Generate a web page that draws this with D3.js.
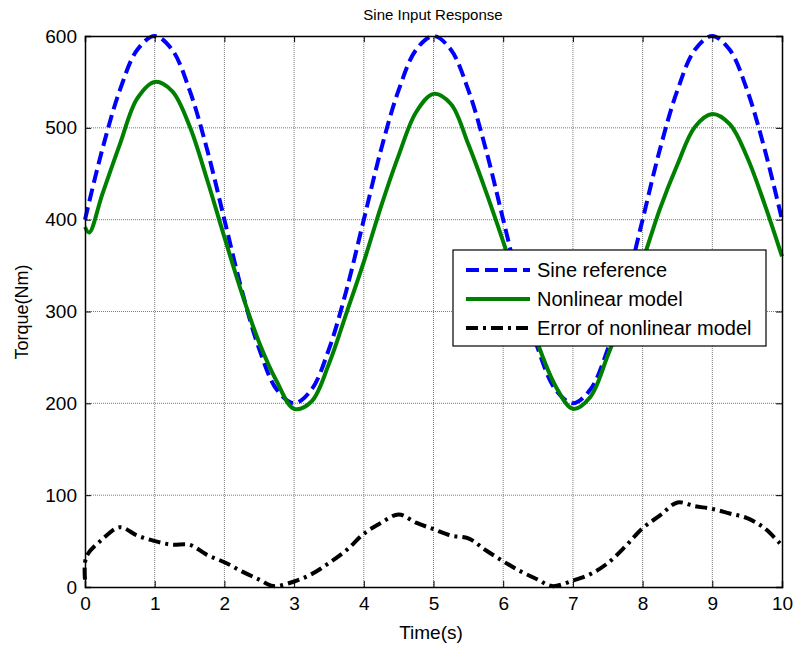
<!DOCTYPE html>
<html>
<head>
<meta charset="utf-8">
<script src="https://cdn.jsdelivr.net/npm/d3@7"></script>
<style>
  body { margin: 0; background: #fff; }
  svg { display: block; font-family: 'Liberation Sans', Arial, sans-serif; }
</style>
</head>
<body>
<div id="chart"></div>
<script>
// values
var refTime = [0, 0.25, 0.5, 0.75, 1, 1.25, 1.5, 1.75, 2, 2.25, 2.5, 2.75, 3, 3.25, 3.5, 3.75, 4, 4.25, 4.5, 4.75, 5,
  5.25, 5.5, 5.75, 6, 6.25, 6.5, 6.75, 7, 7.25, 7.5, 7.75, 8, 8.25, 8.5, 8.75, 9, 9.25, 9.5, 9.75, 10];
var sineRef = [400, 477, 541, 585, 600, 585, 541, 477, 400, 323, 259, 215, 200, 215, 259, 323, 400, 477, 541, 585, 600,
  585, 541, 477, 400, 323, 259, 215, 200, 215, 259, 323, 400, 477, 541, 585, 600, 585, 541, 477, 400];

var modelTime = [0, 0.06, 0.25, 0.5, 0.75, 1, 1.25, 1.5, 1.75, 2, 2.25, 2.5, 2.75, 3, 3.25, 3.5, 3.75, 4, 4.25, 4.5, 4.75, 5,
  5.25, 5.5, 5.75, 6, 6.25, 6.5, 6.75, 7, 7.25, 7.5, 7.75, 8, 8.25, 8.5, 8.75, 9, 9.25, 9.5, 9.75, 10];
var nonlinearModel = [392, 386, 428, 482, 532, 550, 540, 502, 444, 381, 320, 266, 224, 194, 202, 243, 298, 354, 415, 470, 517, 537,
  526, 482, 431, 376, 318, 264, 219, 194, 207, 252, 303, 355, 412, 460, 501, 515, 504, 468, 417, 360];

var errTime = [0, 0.02, 0.25, 0.5, 0.75, 1, 1.25, 1.5, 1.75, 2, 2.25, 2.5, 2.7, 3, 3.25, 3.5, 3.75, 4, 4.25, 4.5, 4.75, 5,
  5.25, 5.5, 5.75, 6, 6.25, 6.5, 6.7, 7, 7.25, 7.5, 7.75, 8, 8.25, 8.5, 8.75, 9, 9.25, 9.5, 9.75, 10];
var modelError = [8, 33, 52, 65, 56, 50, 46, 46, 35, 27, 17, 8, 1, 6, 14, 26, 40, 58, 70, 79, 70, 63,
  56, 53, 40, 28, 17, 8, 1, 7, 14, 26, 44, 64, 78, 92, 88, 85, 80, 75, 64, 45];

var xTicks = [0, 1, 2, 3, 4, 5, 6, 7, 8, 9, 10];
var yTicks = [0, 100, 200, 300, 400, 500, 600];
var legendLabels = ['Sine reference', 'Nonlinear model', 'Error of nonlinear model'];

var W = 796, H = 647;
var plot = { left: 85, right: 782, top: 36, bottom: 587 };

var svg = d3.select('#chart').append('svg').attr('width', W).attr('height', H);
svg.append('rect').attr('width', W).attr('height', H).attr('fill', '#fff');

var x = d3.scaleLinear().domain([0, 10]).range([plot.left, plot.right]);
var y = d3.scaleLinear().domain([0, 600]).range([plot.bottom, plot.top]);

// grid (dotted, matlab style)
var grid = svg.append('g').attr('class', 'grid');
grid.selectAll('line.gx').data(xTicks.slice(1, -1)).enter().append('line')
  .attr('x1', function (d) { return x(d); }).attr('x2', function (d) { return x(d); })
  .attr('y1', plot.top).attr('y2', plot.bottom);
grid.selectAll('line.gy').data(yTicks.slice(1, -1)).enter().append('line')
  .attr('y1', function (d) { return y(d); }).attr('y2', function (d) { return y(d); })
  .attr('x1', plot.left).attr('x2', plot.right);
grid.selectAll('line').attr('stroke', '#7a7a7a').attr('stroke-width', 1).attr('stroke-dasharray', '1,1');

// series
var series = [
  { t: refTime, v: sineRef, color: '#0000ff', dash: '13,6' },
  { t: modelTime, v: nonlinearModel, color: '#008000', dash: null },
  { t: errTime, v: modelError, color: '#000000', dash: '12,5,3,5' }
];

var line = d3.line()
  .x(function (d) { return x(d[0]); })
  .y(function (d) { return y(d[1]); })
  .curve(d3.curveCatmullRom.alpha(0.5));

series.forEach(function (s) {
  var pts = s.t.map(function (t, i) { return [t, s.v[i]]; });
  svg.append('path').datum(pts)
    .attr('d', line)
    .attr('fill', 'none')
    .attr('stroke', s.color)
    .attr('stroke-width', 4)
    .attr('stroke-dasharray', s.dash);
});

// axes box + inside ticks on all sides
var axB = d3.axisBottom(x).tickValues(xTicks).tickSize(-6).tickPadding(10).tickFormat(d3.format('d'));
var axT = d3.axisTop(x).tickValues(xTicks).tickSize(-6).tickFormat('');
var axL = d3.axisLeft(y).tickValues(yTicks).tickSize(-6).tickPadding(8).tickFormat(d3.format('d'));
var axR = d3.axisRight(y).tickValues(yTicks).tickSize(-6).tickFormat('');

svg.append('g').attr('transform', 'translate(0,' + plot.bottom + ')').call(axB);
svg.append('g').attr('transform', 'translate(0,' + plot.top + ')').call(axT);
svg.append('g').attr('transform', 'translate(' + plot.left + ',0)').call(axL);
svg.append('g').attr('transform', 'translate(' + plot.right + ',0)').call(axR);

svg.selectAll('.domain').attr('stroke', '#000').attr('stroke-width', 1.5);
svg.selectAll('.tick line').attr('stroke', '#000');
svg.selectAll('.tick text').attr('fill', '#000').attr('font-size', 19)
  .attr('font-family', "'Liberation Sans', Arial, sans-serif");

// titles
svg.append('text').attr('x', 433).attr('y', 20).attr('text-anchor', 'middle')
  .attr('font-size', 15).text('Sine Input Response');
svg.append('text').attr('x', 431).attr('y', 639).attr('text-anchor', 'middle')
  .attr('font-size', 19).text('Time(s)');
svg.append('text').attr('transform', 'translate(28,312) rotate(-90)').attr('text-anchor', 'middle')
  .attr('font-size', 18).text('Torque(Nm)');

// legend
var lg = svg.append('g').attr('transform', 'translate(453,250)');
lg.append('rect').attr('width', 313).attr('height', 96)
  .attr('fill', '#fff').attr('stroke', '#000').attr('stroke-width', 1.2);

legendLabels.forEach(function (lab, i) {
  var ly = 20 + i * 29;
  lg.append('line').attr('x1', 13).attr('x2', 77).attr('y1', ly).attr('y2', ly)
    .attr('stroke', series[i].color).attr('stroke-width', 4)
    .attr('stroke-dasharray', series[i].dash);
  lg.append('text').attr('x', 84).attr('y', ly + 7).attr('font-size', 20).text(lab);
});
</script>
</body>
</html>
